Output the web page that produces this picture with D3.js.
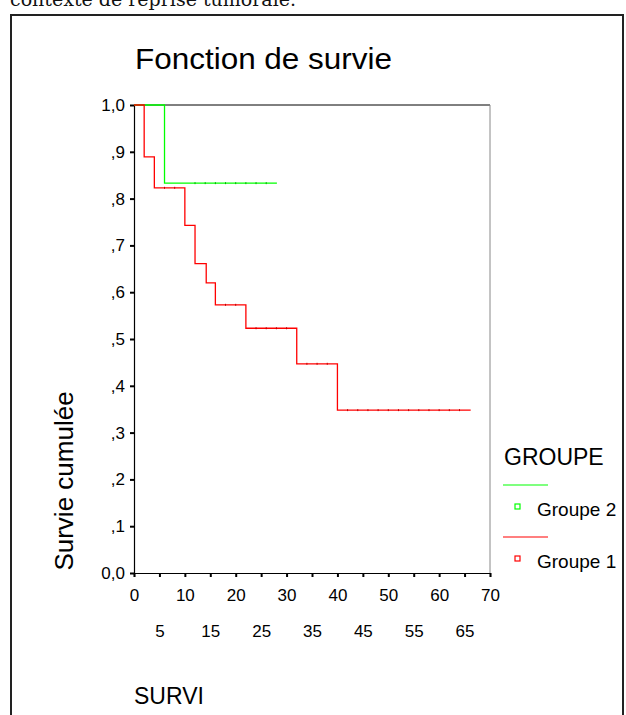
<!DOCTYPE html>
<html>
<head>
<meta charset="utf-8">
<script src="https://cdn.jsdelivr.net/npm/d3@7"></script>
<style>
  body { margin:0; background:#fff; }
  text { font-family: "Liberation Sans", Arial, sans-serif; }
</style>
</head>
<body>
<div id="chart"></div>
<script>
// Kaplan-Meier curves

// Groupe 1 (red)
var g1Times = [2, 4, 10, 12, 14.2, 16, 22, 32, 40];
var g1Surv = [0.889, 0.823, 0.743, 0.661, 0.62, 0.573, 0.523, 0.447, 0.348];
var g1End = 66.2;
var g1Censored = [6, 8, 18, 20, 24, 26, 28, 30, 34, 36, 38, 42, 44, 46, 48, 50, 52, 54, 56, 58, 60, 62, 64];

// Groupe 2 (green)
var g2Times = [6];
var g2Surv = [0.833];
var g2End = 28.1;
var g2Censored = [12, 14, 16, 18, 20, 22, 24, 26];

var yTicks = [0, 0.1, 0.2, 0.3, 0.4, 0.5, 0.6, 0.7, 0.8, 0.9, 1.0];
var yTickLabels = ["0,0", ",1", ",2", ",3", ",4", ",5", ",6", ",7", ",8", ",9", "1,0"];
var xTicks = [0, 5, 10, 15, 20, 25, 30, 35, 40, 45, 50, 55, 60, 65, 70];

var groups = ["Groupe 2", "Groupe 1"];
var groupColors = ["#00ff00", "#ff0000"];
var censorColors = ["#00b000", "#c00000"];

var totalWidth = 626, totalHeight = 715;
var plot = {left:134, top:105, right:490, bottom:573};

var x = d3.scaleLinear().domain([0,70]).range([plot.left, plot.right]);
var y = d3.scaleLinear().domain([0,1]).range([plot.bottom, plot.top]);

var svg = d3.select('#chart').append('svg')
    .attr('width', totalWidth)
    .attr('height', totalHeight);

// text of the page above, cut off by the crop
svg.append('text')
    .attr('x', 10).attr('y', 6)
    .style('font-family', '"DejaVu Serif", serif')
    .style('font-size', '19px')
    .attr('fill', '#111')
    .text('contexte de reprise tumorale.');

// outer frame
svg.append('rect')
    .attr('x', 11).attr('y', 15)
    .attr('width', 612).attr('height', 720)
    .attr('fill', 'none')
    .attr('stroke', '#222')
    .attr('stroke-width', 2);

// title
svg.append('text')
    .attr('x', 135).attr('y', 69)
    .style('font-size', '29px')
    .attr('textLength', 257)
    .attr('lengthAdjust', 'spacingAndGlyphs')
    .text('Fonction de survie');

// plot frame: top black, right grey
svg.append('line')
    .attr('x1', plot.left).attr('x2', plot.right)
    .attr('y1', plot.top).attr('y2', plot.top)
    .attr('stroke', '#000');
svg.append('line')
    .attr('x1', plot.right).attr('x2', plot.right)
    .attr('y1', plot.top).attr('y2', plot.bottom)
    .attr('stroke', '#888');

// axes
var yAxis = d3.axisLeft(y).tickValues(yTicks).tickSize(4).tickPadding(5)
    .tickFormat(function(d,i){ return yTickLabels[i]; });
var gy = svg.append('g')
    .attr('class', 'y axis')
    .attr('transform', 'translate(' + plot.left + ',0)')
    .call(yAxis);

var xAxis = d3.axisBottom(x).tickValues(xTicks).tickSize(4)
    .tickFormat(function(d){ return d; });
var gx = svg.append('g')
    .attr('class', 'x axis')
    .attr('transform', 'translate(0,' + plot.bottom + ')')
    .call(xAxis);

[gx, gy].forEach(function(g){
    g.select('.domain').attr('stroke', '#000').attr('stroke-width', 1.2);
    g.selectAll('.tick line').attr('stroke', '#000').attr('stroke-width', 2);
    g.selectAll('.tick text')
        .style('font-family', '"Liberation Sans", Arial, sans-serif')
        .style('font-size', '17px')
        .attr('fill', '#000');
});
// two rows of x labels: tens on first row, fives below
gx.selectAll('.tick text')
    .attr('dy', null)
    .attr('y', function(d){ return d % 10 === 0 ? 28 : 64; });

// axis titles
svg.append('text')
    .attr('transform', 'translate(73,481) rotate(-90)')
    .attr('text-anchor', 'middle')
    .style('font-size', '26px')
    .text('Survie cumulée');

svg.append('text')
    .attr('x', 134).attr('y', 704)
    .style('font-size', '23px')
    .text('SURVI');

// curves
function stepPoints(times, surv, end) {
    var pts = [[0, 1]];
    times.forEach(function(t, i){ pts.push([t, surv[i]]); });
    pts.push([end, surv[surv.length - 1]]);
    return pts;
}
function survAt(times, surv, t) {
    var s = 1;
    times.forEach(function(tt, i){ if (tt <= t) s = surv[i]; });
    return s;
}

var line = d3.line()
    .x(function(d){ return x(d[0]); })
    .y(function(d){ return y(d[1]); })
    .curve(d3.curveStepAfter);

var curves = [
    {times:g2Times, surv:g2Surv, end:g2End, cens:g2Censored, color:groupColors[0], ccol:censorColors[0]},
    {times:g1Times, surv:g1Surv, end:g1End, cens:g1Censored, color:groupColors[1], ccol:censorColors[1]}
];

curves.forEach(function(c){
    svg.append('path')
        .datum(stepPoints(c.times, c.surv, c.end))
        .attr('d', line)
        .attr('fill', 'none')
        .attr('stroke', c.color)
        .attr('stroke-width', 1.3);

    svg.selectAll(null).data(c.cens).enter().append('line')
        .attr('x1', function(d){ return x(d); })
        .attr('x2', function(d){ return x(d); })
        .attr('y1', function(d){ return y(survAt(c.times, c.surv, d)) - 1; })
        .attr('y2', function(d){ return y(survAt(c.times, c.surv, d)) + 1; })
        .attr('stroke', c.ccol)
        .attr('stroke-width', 1);
});

// legend
var legend = svg.append('g');
legend.append('text')
    .attr('x', 504).attr('y', 465)
    .style('font-size', '23px')
    .text('GROUPE');

var legendY = [485, 537];
groups.forEach(function(gname, i){
    var ly = legendY[i];
    legend.append('line')
        .attr('x1', 503).attr('x2', 548)
        .attr('y1', ly).attr('y2', ly)
        .attr('stroke', groupColors[i])
        .attr('stroke-width', 1.2);
    legend.append('rect')
        .attr('x', 515).attr('y', ly + 19)
        .attr('width', 5).attr('height', 5)
        .attr('fill', 'none')
        .attr('stroke', groupColors[i])
        .attr('stroke-width', 1.2);
    legend.append('text')
        .attr('x', 537).attr('y', ly + 31)
        .style('font-size', '19px')
        .text(gname);
});
</script>
</body>
</html>
